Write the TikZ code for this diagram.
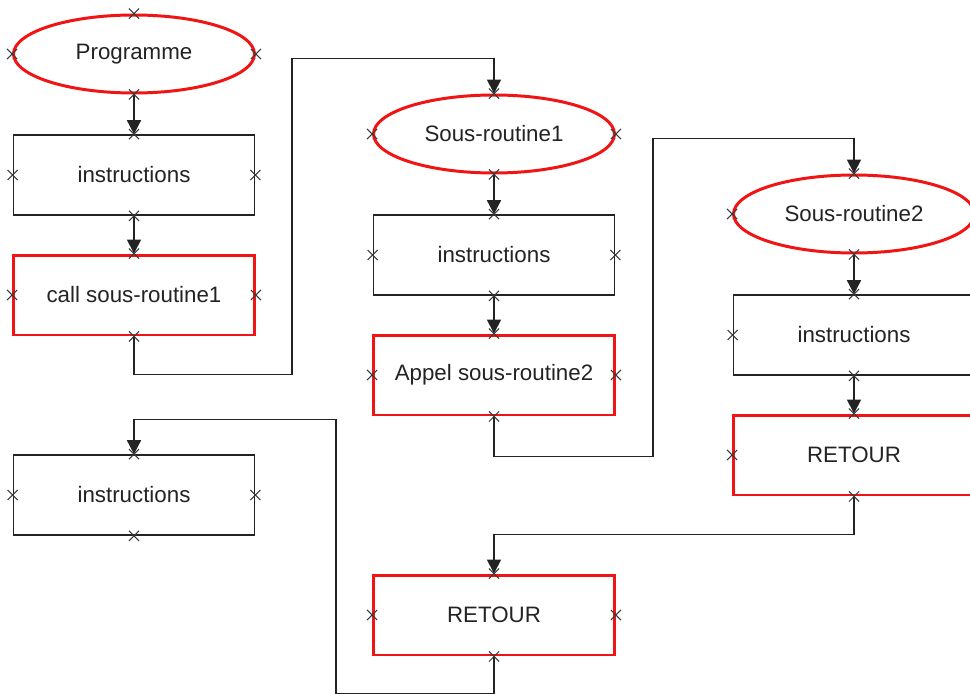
\documentclass[tikz,border=0pt]{standalone}
\usepackage{fontspec}
\setmainfont{Liberation Sans}
\usetikzlibrary{shapes.geometric,shapes.misc,arrows.meta}
\definecolor{trait}{RGB}{35,35,35}
\definecolor{cadre}{RGB}{240,20,20}
\tikzset{%
  bloc/.style={draw=trait, line width=1pt, rectangle, minimum width=4.82cm,
    minimum height=1.6cm, inner sep=0pt, text=trait, font=\fontsize{12.7}{15}\selectfont},% plain block
  rouge/.style={bloc, draw=cadre, line width=1.7pt},% red block
  debut/.style={rouge, ellipse, minimum height=1.56cm},% routine entry
  lien/.style={draw=trait, line width=1pt, -{Triangle[width=0.28cm,length=0.28cm]}},% flow arrow
  croix/.style={draw=trait!90, cross out, minimum size=0.18cm, inner sep=0pt, line width=0.6pt}% anchor mark
}
\newcommand*{\marques}[1]{%
  \foreach \a in {north,south,east,west}{
    \node[croix] at (#1.\a) {};
  }
}

\begin{document}
\begin{tikzpicture}[x=0.02cm, y=-0.02cm]
\clip (0,0) rectangle (970,693);

% programme principal
\node[debut] (prog) at (134,54) {Programme};
\node[bloc] (instrA) at (134,175) {instructions};
\node[rouge] (callA) at (134,295) {call sous-routine1};
\node[bloc] (instrD) at (134,495) {instructions};

% sous-routine 1
\node[debut] (srA) at (494,134) {Sous-routine1};
\node[bloc] (instrB) at (494,255) {instructions};
\node[rouge] (callB) at (494,375) {Appel sous-routine2};
\node[rouge] (retA) at (494,615) {RETOUR};

% sous-routine 2
\node[debut] (srB) at (854,214) {Sous-routine2};
\node[bloc] (instrC) at (854,335) {instructions};
\node[rouge] (retB) at (854,455) {RETOUR};

\draw[lien] (prog.south) -- (instrA.north);
\draw[lien] (instrA.south) -- (callA.north);
\draw[lien] (srA.south) -- (instrB.north);
\draw[lien] (instrB.south) -- (callB.north);
\draw[lien] (srB.south) -- (instrC.north);
\draw[lien] (instrC.south) -- (retB.north);

\draw[lien] (callA.south) -- ++(0,38) -| ++(158,-316) -| (srA.north);
\draw[lien] (callB.south) -- ++(0,40) -| ++(159,-318) -| (srB.north);
\draw[lien] (retB.south) -- ++(0,38) -| (retA.north);
\draw[lien] (retA.south) -- ++(0,37) -| ++(-158,-274) -| (instrD.north);

\foreach \n in {prog,instrA,callA,instrD,srA,instrB,callB,retA,srB,instrC,retB}{
  \marques{\n}
}
\end{tikzpicture}
\end{document}
